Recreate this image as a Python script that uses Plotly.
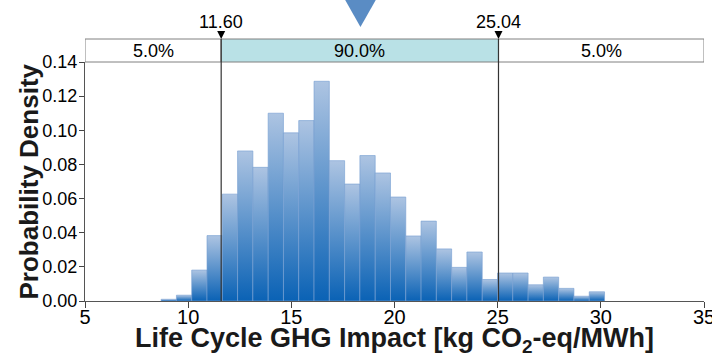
import plotly.graph_objects as go

# ---------------- data ----------------
bin_start = 8.69
bin_width = 0.741
density = [0.001, 0.0034, 0.0181, 0.0383, 0.0626, 0.0879, 0.0783, 0.110,
           0.0985, 0.1057, 0.1287, 0.0822, 0.0685, 0.0852, 0.075, 0.0609,
           0.0381, 0.0468, 0.0305, 0.0197, 0.0287, 0.0126, 0.0164, 0.0164,
           0.0095, 0.014, 0.0074, 0.0028, 0.0054]
cut_values = [11.60, 25.04]
cut_labels = ["11.60", "25.04"]
section_labels = ["5.0%", "90.0%", "5.0%"]
x_range = [5, 35]
y_range = [0, 0.14]
x_ticks = [5, 10, 15, 20, 25, 30, 35]
y_ticks = [0.00, 0.02, 0.04, 0.06, 0.08, 0.10, 0.12, 0.14]
y_tick_labels = ["0.00", "0.02", "0.04", "0.06", "0.08", "0.10", "0.12", "0.14"]
x_title = "<b>Life Cycle GHG Impact [kg CO<sub>2</sub>-eq/MWh]</b>"
y_title = "<b>Probability Density</b>"
slider_value = 18.35

# ---------------- style ----------------
FONT = "Liberation Sans"
W, H = 712, 354
ML, MR, MT, MB = 85, 8, 62, 53
plot_h = H - MT - MB
plot_w = W - ML - MR
box_top = 1 + 23 / plot_h
bar_dark = "#0a62b5"
bar_light = "#adc4e2"
mid_fill = "#b9e1e6"
box_line = "#808080"

fig = go.Figure()

for i, d in enumerate(density):
    x0 = bin_start + i * bin_width
    x1 = x0 + bin_width
    fig.add_trace(go.Scatter(
        x=[x0, x0, x1, x1, x0], y=[0, d, d, 0, 0],
        mode="lines", fill="toself",
        line=dict(width=0.7, color="rgba(120,160,210,0.9)"),
        fillgradient=dict(type="vertical",
                          colorscale=[[0, bar_dark], [1, bar_light]]),
        hoverinfo="skip", showlegend=False))

shapes = []
edges = [x_range[0]] + cut_values + [x_range[1]]
fills = ["white", mid_fill, "white"]
for k in range(3):
    shapes.append(dict(type="rect", xref="x", yref="paper",
                       x0=edges[k], x1=edges[k + 1], y0=1, y1=box_top,
                       fillcolor=fills[k], line=dict(color=box_line, width=1),
                       layer="above"))
for c in cut_values:
    shapes.append(dict(type="line", xref="x", yref="paper", x0=c, x1=c,
                       y0=0, y1=box_top, line=dict(color="#333333", width=1.2),
                       layer="above"))
    shapes.append(dict(type="path", xref="x", yref="paper",
                       xsizemode="pixel", ysizemode="pixel",
                       xanchor=c, yanchor=box_top,
                       path="M-4,8 L4,8 L0,0 Z",
                       fillcolor="black", line=dict(width=0), layer="above"))
shapes.append(dict(type="path", xref="x", yref="paper",
                   xsizemode="pixel", ysizemode="pixel",
                   xanchor=slider_value, yanchor=1 + (MT - 27) / plot_h,
                   path="M0,0 L-17,30 L17,30 Z",
                   fillcolor="#5a8cc4", line=dict(width=0), layer="above"))

annotations = []
for k in range(3):
    annotations.append(dict(x=(edges[k] + edges[k + 1]) / 2, y=(1 + box_top) / 2,
                            xref="x", yref="paper", text=section_labels[k],
                            showarrow=False, font=dict(family=FONT, size=18, color="black"),
                            xanchor="center", yanchor="middle"))
for c, lab in zip(cut_values, cut_labels):
    annotations.append(dict(x=c, y=1 + (MT - 21.5) / plot_h, xref="x", yref="paper",
                            text=lab, showarrow=False,
                            font=dict(family=FONT, size=18, color="black"),
                            xanchor="center", yanchor="middle"))
annotations.append(dict(x=0.5, y=-(340 - (MT + plot_h)) / plot_h, xref="paper", yref="paper",
                        text=x_title, showarrow=False,
                        font=dict(family=FONT, size=27, color="#1a1a1a"),
                        xanchor="center", yanchor="middle"))
annotations.append(dict(x=-(ML - 28) / plot_w, y=0.5, xref="paper", yref="paper",
                        text=y_title, showarrow=False, textangle=-90,
                        font=dict(family=FONT, size=26, color="#1a1a1a"),
                        xanchor="center", yanchor="middle"))

fig.update_layout(
    width=W, height=H,
    margin=dict(l=ML, r=MR, t=MT, b=MB, autoexpand=False),
    paper_bgcolor="white", plot_bgcolor="white",
    showlegend=False,
    shapes=shapes, annotations=annotations,
    xaxis=dict(range=x_range, tickvals=x_ticks, ticks="outside", ticklen=6,
               tickcolor="#444", tickwidth=1, automargin=False,
               showline=True, linecolor="#555", linewidth=1.2,
               showgrid=False, zeroline=False, ticklabelstandoff=-8,
               ticklabeloverflow="allow",
               tickfont=dict(family=FONT, size=20, color="black")),
    yaxis=dict(range=y_range, tickvals=y_ticks, ticktext=y_tick_labels,
               ticks="outside", ticklen=5, tickcolor="#444", tickwidth=1,
               automargin=False,
               showline=True, linecolor="#555", linewidth=1.2,
               showgrid=False, zeroline=False, ticklabelstandoff=-2,
               tickfont=dict(family=FONT, size=18, color="black")),
    # overlay axes giving the short inner half of the crossing tick marks
    xaxis2=dict(range=x_range, tickvals=x_ticks, overlaying="x", anchor="y",
                side="bottom", ticks="inside", ticklen=5, tickcolor="#444",
                tickwidth=1, showticklabels=False, showline=False,
                showgrid=False, zeroline=False, automargin=False),
    yaxis2=dict(range=y_range, tickvals=y_ticks, overlaying="y", anchor="x",
                side="left", ticks="inside", ticklen=3, tickcolor="#444",
                tickwidth=1, showticklabels=False, showline=False,
                showgrid=False, zeroline=False, automargin=False),
)

fig.write_html("out.html", config={"displayModeBar": False})

# remove default page margin so the figure sits at the window's top-left corner
with open("out.html", "r", encoding="utf-8") as f:
    html = f.read()
html = html.replace("<head>", "<head><style>html,body{margin:0;padding:0;overflow:hidden;}</style>", 1)
with open("out.html", "w", encoding="utf-8") as f:
    f.write(html)
